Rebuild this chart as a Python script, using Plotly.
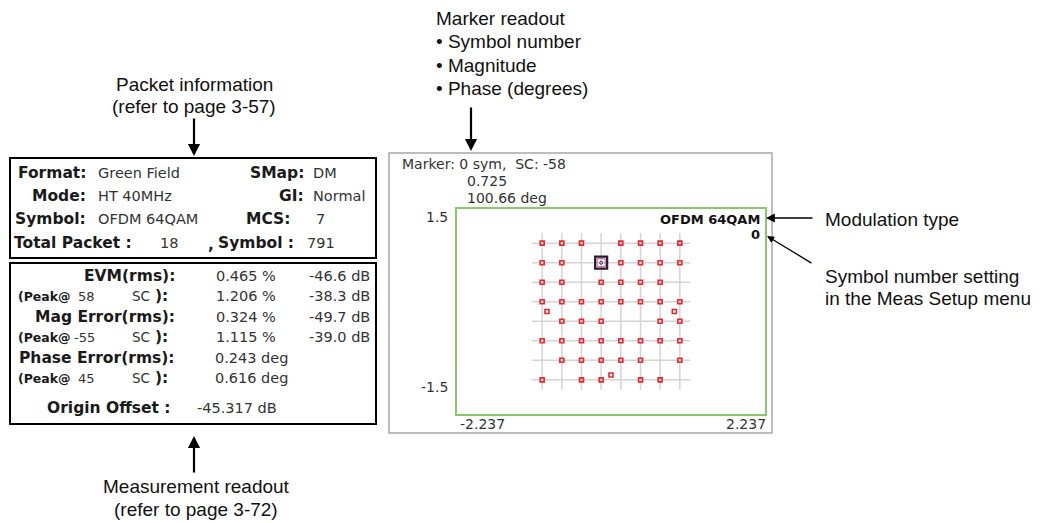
import plotly.graph_objects as go

W, H = 1042, 523

# 64QAM reference levels (normalised)
levels = [-1.0, -0.714, -0.429, -0.143, 0.143, 0.429, 0.714, 1.0]
grid_extent = 1.15

# received symbols (I, Q), row by row from the top
sym_i = [-1.0, -0.714, -0.429, 0.143, 0.429, 0.714, 1.0,
         -1.0, -0.714, 0.143, 0.429, 0.714, 1.0,
         -1.0, -0.714, -0.143, 0.143, 0.429, 0.714,
         -1.0, -0.714, -0.429, -0.143, 0.143, 0.429, 0.714, 1.0,
         -0.93, 0.92,
         -0.714, -0.429, -0.143, 0.714, 1.0,
         -1.0, -0.714, -0.429, -0.143, 0.143, 0.429, 0.714, 1.0,
         -0.714, -0.429, -0.143, 0.143, 0.429, 1.0,
         -1.0, -0.429, -0.143, 0.429, 0.714,
         0.0]
sym_q = [1.0, 1.0, 1.0, 1.0, 1.0, 1.0, 1.0,
         0.714, 0.714, 0.714, 0.714, 0.714, 0.714,
         0.429, 0.429, 0.429, 0.429, 0.429, 0.429,
         0.143, 0.143, 0.143, 0.143, 0.143, 0.143, 0.143, 0.143,
         0.0, 0.0,
         -0.143, -0.143, -0.143, -0.143, -0.143,
         -0.429, -0.429, -0.429, -0.429, -0.429, -0.429, -0.429, -0.429,
         -0.714, -0.714, -0.714, -0.714, -0.714, -0.714,
         -1.0, -1.0, -1.0, -1.0, -1.0,
         -0.93]

marker_i = [-0.143]
marker_q = [0.714]
x_span = 2.237
y_span = 1.5

# packet information
info_labels_l = ["Format:", "Mode:", "Symbol:"]
info_values_l = ["Green Field", "HT 40MHz", "OFDM 64QAM"]
info_labels_r = ["SMap:", "GI:", "MCS:"]
info_values_r = ["DM", "Normal", "7"]
total_packet = 18
total_symbol = 791

# measurement readout
evm_rms = [0.465, -46.6]
evm_peak = [1.206, -38.3]
evm_peak_sc = 58
mag_rms = [0.324, -49.7]
mag_peak = [1.115, -39.0]
mag_peak_sc = -55
phase_rms = 0.243
phase_peak = 0.616
phase_peak_sc = 45
origin_offset = -45.317

marker_sym = 0
marker_sc = -58
marker_mag = 0.725
marker_phase = 100.66


def px(x):
    return x / W


def py(y):
    return 1 - y / H


fig = go.Figure()

# grid segments
gx, gy = [], []
for lv in levels:
    gx += [lv, lv, None, -grid_extent, grid_extent, None]
    gy += [-grid_extent, grid_extent, None, lv, lv, None]
fig.add_trace(go.Scatter(x=gx, y=gy, mode="lines", line=dict(color="#d4d4d4", width=1.5),
                         hoverinfo="skip", showlegend=False))

fig.add_trace(go.Scatter(x=sym_i, y=sym_q, mode="markers",
                         marker=dict(symbol="square-open", size=4, color="#e8262e", line=dict(width=1.6)),
                         showlegend=False))

# marker box
fig.add_trace(go.Scatter(x=marker_i, y=marker_q, mode="markers",
                         marker=dict(symbol="square-open", size=12, color="#2a1a2a", line=dict(width=2.2)),
                         showlegend=False))
fig.add_trace(go.Scatter(x=marker_i, y=marker_q, mode="markers",
                         marker=dict(symbol="square-open", size=8, color="#c050a0", line=dict(width=1)),
                         showlegend=False))
fig.add_trace(go.Scatter(x=marker_i, y=marker_q, mode="markers",
                         marker=dict(symbol="circle-open", size=3, color="#402040", line=dict(width=1)),
                         showlegend=False))

fig.update_xaxes(domain=[px(457), px(765)], range=[-x_span, x_span], showgrid=False, zeroline=False,
                 showticklabels=False, ticks="", showline=True, mirror=True, linecolor="#8cc66b", linewidth=2)
fig.update_yaxes(domain=[py(414), py(209)], range=[-y_span, y_span], showgrid=False, zeroline=False,
                 showticklabels=False, ticks="", showline=True, mirror=True, linecolor="#8cc66b", linewidth=2)

shapes = [
    dict(type="rect", xref="paper", yref="paper", x0=px(389), x1=px(772), y0=py(433), y1=py(153),
         line=dict(color="#a8a8a8", width=1.5)),
    dict(type="rect", xref="paper", yref="paper", x0=px(10), x1=px(376), y0=py(258), y1=py(158),
         line=dict(color="black", width=2)),
    dict(type="rect", xref="paper", yref="paper", x0=px(10), x1=px(376), y0=py(424), y1=py(263),
         line=dict(color="black", width=2)),
]

ann = []
BOX = "DejaVu Sans"
CAP = "Liberation Sans"


def txt(x, y, s, size=14.5, anchor="left", bold=False, color="#1a1a1a", font=BOX):
    if bold:
        s = "<b>" + s + "</b>"
    ann.append(dict(xref="paper", yref="paper", x=px(x), y=py(y), text=s, showarrow=False,
                    xanchor=anchor, yanchor="middle", font=dict(family=font, size=size, color=color)))


def arrow(x, y, ax, ay, width=2):
    ann.append(dict(xref="paper", yref="paper", x=px(x), y=py(y), text="", showarrow=True,
                    ax=ax, ay=ay, arrowhead=2, arrowsize=1.1, arrowwidth=width, arrowcolor="black"))


LB = 15.5   # bold label size
VAL = "#333"

# packet information box
rows = [173, 196, 219]
r_lab_x = [306, 306, 292]
r_val_x = [311, 311, 314]
for i in range(3):
    txt(88, rows[i], info_labels_l[i], size=LB, anchor="right", bold=True)
    txt(96, rows[i], info_values_l[i], color=VAL)
    txt(r_lab_x[i], rows[i], info_labels_r[i], size=LB, anchor="right", bold=True)
    txt(r_val_x[i], rows[i], info_values_r[i], color=VAL)
txt(12, 243, "Total Packet :", size=LB, bold=True)
txt(180, 243, str(total_packet), anchor="right", color=VAL)
txt(206, 245, ",", size=LB, bold=True)
txt(216, 243, "Symbol :", size=LB, bold=True)
txt(305, 243, str(total_symbol), color=VAL)

# measurement readout box
txt(177, 276, "EVM(rms):", size=LB, anchor="right", bold=True)
txt(278, 276, f"{evm_rms[0]:.3f} %", anchor="right", color=VAL)
txt(372, 276, f"{evm_rms[1]:.1f} dB", anchor="right", color=VAL)
txt(177, 317, "Mag Error(rms):", size=LB, anchor="right", bold=True)
txt(278, 317, f"{mag_rms[0]:.3f} %", anchor="right", color=VAL)
txt(372, 317, f"{mag_rms[1]:.1f} dB", anchor="right", color=VAL)
txt(177, 358, "Phase Error(rms):", size=LB, anchor="right", bold=True)
txt(213, 358, f"{phase_rms:.3f} deg", color=VAL)

peak_rows = [296, 337, 378]
peak_sc = [evm_peak_sc, mag_peak_sc, phase_peak_sc]
for y, sc in zip(peak_rows, peak_sc):
    txt(16, y, "(Peak@", size=12.5, bold=True)
    txt(97, y, str(sc), size=13, anchor="right", color=VAL)
    txt(130, y, "SC", size=13.5, color=VAL)
    txt(153, y, "):", size=LB, bold=True)
txt(278, 296, f"{evm_peak[0]:.3f} %", anchor="right", color=VAL)
txt(372, 296, f"{evm_peak[1]:.1f} dB", anchor="right", color=VAL)
txt(278, 337, f"{mag_peak[0]:.3f} %", anchor="right", color=VAL)
txt(372, 337, f"{mag_peak[1]:.1f} dB", anchor="right", color=VAL)
txt(213, 378, f"{phase_peak:.3f} deg", color=VAL)
txt(172, 408, "Origin Offset :", size=LB, anchor="right", bold=True)
txt(195, 408, f"{origin_offset:.3f} dB", color=VAL)

# constellation readouts
g = "#333333"
txt(400, 164, f"Marker: {marker_sym} sym,&nbsp;&nbsp;SC: {marker_sc}", size=14, color=g)
txt(465, 181, f"{marker_mag:.3f}", size=14, color=g)
txt(465, 198, f"{marker_phase:.2f} deg", size=14, color=g)
txt(450, 217, f"{y_span}", size=14, anchor="right", color=g)
txt(450, 387, f"{-y_span}", size=14, anchor="right", color=g)
txt(458, 424, f"{-x_span}", size=14, color=g)
txt(768, 424, f"{x_span}", size=14, anchor="right", color=g)
txt(762, 219, "OFDM 64QAM", size=13, anchor="right", bold=True, color="#111")
txt(762, 234, str(marker_sym), size=13, anchor="right", bold=True, color="#111")

# callouts
txt(194, 84, "Packet information", size=19, anchor="center", font=CAP, color="#111")
txt(194, 107, "(refer to page 3-57)", size=19, anchor="center", font=CAP, color="#111")
arrow(194, 156, 0, -39, 2.2)
txt(196, 486, "Measurement readout", size=19, anchor="center", font=CAP, color="#111")
txt(196, 509, "(refer to page 3-72)", size=19, anchor="center", font=CAP, color="#111")
arrow(194, 436, 0, 38, 2.2)
txt(434, 18, "Marker readout", size=19, font=CAP, color="#111")
txt(434, 42, "• Symbol number", size=19, font=CAP, color="#111")
txt(434, 65, "• Magnitude", size=19, font=CAP, color="#111")
txt(434, 88, "• Phase (degrees)", size=19, font=CAP, color="#111")
arrow(471, 151, 0, -45, 2.2)
txt(823, 219, "Modulation type", size=19, font=CAP, color="#111")
arrow(766, 218, 48, 0, 1.6)
txt(823, 276, "Symbol number setting", size=19, font=CAP, color="#111")
txt(823, 298, "in the Meas Setup menu", size=19, font=CAP, color="#111")
arrow(767, 236, 46, 28, 1.3)

fig.update_layout(width=W, height=H, margin=dict(l=0, r=0, t=0, b=0),
                  paper_bgcolor="white", plot_bgcolor="white",
                  shapes=shapes, annotations=ann, showlegend=False)

fig.write_html("out.html", config={"displayModeBar": False},
               post_script="document.body.style.margin='0px';")
